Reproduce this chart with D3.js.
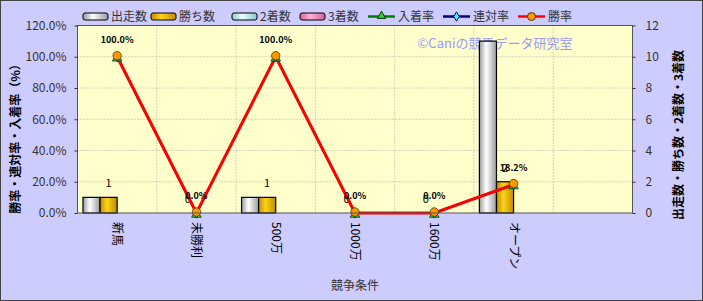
<!DOCTYPE html>
<html>
<head>
<meta charset="utf-8">
<script src="https://cdn.jsdelivr.net/npm/d3@7"></script>
<style>
  body { margin: 0; background: #fff; }
  text { font-family: "Noto Sans CJK JP", "DejaVu Sans", sans-serif; }
</style>
</head>
<body>
<div id="chart"></div>
<script>
// data
var categories = ["新馬", "未勝利", "500万", "1000万", "1600万", "オープン", ""];
var starts  = [1, 0, 1, 0, 0, 11];
var wins    = [1, 0, 1, 0, 0, 2];
var seconds = [0, 0, 0, 0, 0, 0];
var thirds  = [0, 0, 0, 0, 0, 0];
var showRate  = [100, 0, 100, 0, 0, 18.2];   // 入着率
var placeRate = [100, 0, 100, 0, 0, 18.2];   // 連対率
var winRate   = [100, 0, 100, 0, 0, 18.2];   // 勝率
var pctTicks = [0, 20, 40, 60, 80, 100, 120];
var cntTicks = [0, 2, 4, 6, 8, 10, 12];

var W = 703, H = 301;
var plot = {left: 77.5, right: 632.5, top: 25.5, bottom: 213};

var svg = d3.select("#chart").append("svg")
  .attr("width", W).attr("height", H);

var defs = svg.append("defs");
function grad(id, edge, mid) {
  var g = defs.append("linearGradient").attr("id", id)
    .attr("x1", "0%").attr("x2", "100%").attr("y1", "0%").attr("y2", "0%");
  g.append("stop").attr("offset", "0%").attr("stop-color", edge);
  g.append("stop").attr("offset", "40%").attr("stop-color", mid);
  g.append("stop").attr("offset", "100%").attr("stop-color", edge);
}
grad("gStart", "#9a9a9a", "#ffffff");
grad("gWin", "#c08c00", "#ffd21a");
grad("gSecond", "#88cccc", "#eaffff");
grad("gThird", "#cc6699", "#ffb3d9");

// background + border
svg.append("rect").attr("x", 0.5).attr("y", 0.5).attr("width", W - 1).attr("height", H - 1)
  .attr("fill", "#ccccff").attr("stroke", "#444").attr("stroke-width", 1);

svg.append("rect").attr("x", plot.left).attr("y", plot.top)
  .attr("width", plot.right - plot.left).attr("height", plot.bottom - plot.top)
  .attr("fill", "#ffffcc");

var x = d3.scaleBand().domain(categories).range([plot.left, plot.right]);
var yP = d3.scaleLinear().domain([0, 120]).range([plot.bottom, plot.top]);
var yC = d3.scaleLinear().domain([0, 12]).range([plot.bottom, plot.top]);

// gridlines
svg.append("g").selectAll("line").data(pctTicks.slice(1)).join("line")
  .attr("x1", plot.left).attr("x2", plot.right)
  .attr("y1", function(d) { return yP(d); }).attr("y2", function(d) { return yP(d); })
  .attr("stroke", "#a8a8a8").attr("stroke-dasharray", "1,2");
svg.append("g").selectAll("line").data(categories.slice(1)).join("line")
  .attr("x1", function(d) { return x(d); }).attr("x2", function(d) { return x(d); })
  .attr("y1", plot.top).attr("y2", plot.bottom)
  .attr("stroke", "#a8a8a8").attr("stroke-dasharray", "1,2");

// watermark (under the bars)
svg.append("text").attr("x", 495).attr("y", 48).attr("text-anchor", "middle")
  .attr("font-size", 13).attr("fill", "#9999ff")
  .text("©Caniの競馬データ研究室");

// bars
var series = [
  {name: "出走数", vals: starts, fill: "url(#gStart)"},
  {name: "勝ち数", vals: wins, fill: "url(#gWin)"},
  {name: "2着数", vals: seconds, fill: "url(#gSecond)"},
  {name: "3着数", vals: thirds, fill: "url(#gThird)"}
];
var inner = d3.scaleBand().domain(d3.range(series.length))
  .range([0, x.bandwidth()]).paddingOuter(0.32);

series.forEach(function(s, i) {
  svg.append("g").selectAll("rect").data(s.vals).join("rect")
    .attr("x", function(d, j) { return x(categories[j]) + inner(i); })
    .attr("width", inner.bandwidth())
    .attr("y", function(d) { return yC(d); })
    .attr("height", function(d) { return plot.bottom - yC(d); })
    .attr("fill", s.fill)
    .attr("stroke", "#000")
    .attr("stroke-width", function(d) { return d > 0 ? 1.2 : 0; });
});

// labels for 勝ち数
svg.append("g").selectAll("text").data(wins).join("text")
  .attr("x", function(d, j) { return x(categories[j]) + inner(1) + inner.bandwidth() / 2; })
  .attr("y", function(d) { return yC(d) - 10; })
  .attr("text-anchor", "middle")
  .attr("font-size", 11).attr("fill", "#000")
  .text(function(d) { return d; });

// lines
var cx = function(d, j) { return x(categories[j]) + x.bandwidth() / 2; };
var lineGen = function(vals) {
  return d3.line().x(function(d, j) { return cx(d, j); }).y(function(d) { return yP(d); })(vals);
};
svg.append("path").attr("d", lineGen(showRate)).attr("fill", "none")
  .attr("stroke", "#008000").attr("stroke-width", 2);
svg.append("path").attr("d", lineGen(placeRate)).attr("fill", "none")
  .attr("stroke", "#000080").attr("stroke-width", 2);
svg.append("path").attr("d", lineGen(winRate)).attr("fill", "none")
  .attr("stroke", "#ff0000").attr("stroke-width", 3);

// markers
var tri = d3.symbol().type(d3.symbolTriangle).size(40);
var dia = d3.symbol().type(d3.symbolDiamond).size(30);
svg.append("g").selectAll("path").data(showRate).join("path")
  .attr("d", tri)
  .attr("transform", function(d, j) { return "translate(" + cx(d, j) + "," + (yP(d) + 1.5) + ")"; })
  .attr("fill", "#33cc33").attr("stroke", "#004000").attr("stroke-width", 0.8);
svg.append("g").selectAll("path").data(placeRate).join("path")
  .attr("d", dia)
  .attr("transform", function(d, j) { return "translate(" + cx(d, j) + "," + yP(d) + ")"; })
  .attr("fill", "#33ffff").attr("stroke", "#000080").attr("stroke-width", 0.8);
svg.append("g").selectAll("circle").data(winRate).join("circle")
  .attr("cx", function(d, j) { return cx(d, j); })
  .attr("cy", function(d) { return yP(d) - 1; })
  .attr("r", 4.2)
  .attr("fill", "#ff9900").attr("stroke", "#553300").attr("stroke-width", 0.8);

// percent labels
svg.append("g").selectAll("text").data(winRate).join("text")
  .attr("x", function(d, j) { return cx(d, j); })
  .attr("y", function(d) { return yP(d) - 14; })
  .attr("text-anchor", "middle")
  .attr("font-size", 9).attr("font-weight", "bold").attr("fill", "#000")
  .text(function(d) { return d.toFixed(1) + "%"; });

// plot frame
svg.append("rect").attr("x", plot.left).attr("y", plot.top)
  .attr("width", plot.right - plot.left).attr("height", plot.bottom - plot.top)
  .attr("fill", "none").attr("stroke", "#555").attr("stroke-width", 1);

// axes
var leftAxis = svg.append("g").attr("transform", "translate(" + plot.left + ",0)")
  .call(d3.axisLeft(yP).tickValues(pctTicks).tickSize(3).tickPadding(8)
    .tickFormat(function(d) { return d.toFixed(1) + "%"; }));
var rightAxis = svg.append("g").attr("transform", "translate(" + plot.right + ",0)")
  .call(d3.axisRight(yC).tickValues(cntTicks).tickSize(3).tickPadding(10));
[leftAxis, rightAxis].forEach(function(a) {
  a.select(".domain").remove();
  a.selectAll("line").attr("stroke", "#333");
  a.selectAll("text").attr("font-size", 12).attr("fill", "#333")
    .attr("font-family", "'Liberation Sans', sans-serif");
});

// category labels, rotated
svg.append("g").selectAll("text").data(categories).join("text")
  .attr("transform", function(d) {
    return "translate(" + (x(d) + x.bandwidth() / 2 - 4) + "," + (plot.bottom + 9) + ") rotate(90)";
  })
  .attr("font-size", 12).attr("fill", "#000")
  .text(function(d) { return d; });

// axis titles
svg.append("text").attr("x", (plot.left + plot.right) / 2).attr("y", 290)
  .attr("text-anchor", "middle").attr("font-size", 12).attr("fill", "#333")
  .text("競争条件");
svg.append("text").attr("transform", "translate(20,136) rotate(-90)")
  .attr("text-anchor", "middle").attr("font-size", 12).attr("font-weight", "bold").attr("fill", "#000")
  .text("勝率・連対率・入着率（%）");
svg.append("text").attr("transform", "translate(683,135) rotate(-90)")
  .attr("text-anchor", "middle").attr("font-size", 12).attr("font-weight", "bold").attr("fill", "#000")
  .text("出走数・勝ち数・2着数・3着数");

// legend
var legBars = [
  {label: "出走数", fill: "url(#gStart)", x: 83},
  {label: "勝ち数", fill: "url(#gWin)", x: 151},
  {label: "2着数", fill: "url(#gSecond)", x: 232},
  {label: "3着数", fill: "url(#gThird)", x: 300}
];
legBars.forEach(function(l) {
  svg.append("rect").attr("x", l.x).attr("y", 13).attr("width", 25).attr("height", 7)
    .attr("rx", 2).attr("fill", l.fill).attr("stroke", "#000");
  svg.append("text").attr("x", l.x + 28).attr("y", 21).attr("font-size", 12).attr("fill", "#333")
    .text(l.label);
});
var legLines = [
  {label: "入着率", color: "#008000", x: 368, mark: "tri"},
  {label: "連対率", color: "#000080", x: 443, mark: "dia"},
  {label: "勝率", color: "#ff0000", x: 518, mark: "circle"}
];
legLines.forEach(function(l) {
  svg.append("line").attr("x1", l.x).attr("x2", l.x + 27).attr("y1", 16.5).attr("y2", 16.5)
    .attr("stroke", l.color).attr("stroke-width", 2.5);
  var mx = l.x + 13.5;
  if (l.mark === "tri") {
    svg.append("path").attr("d", d3.symbol().type(d3.symbolTriangle).size(30))
      .attr("transform", "translate(" + mx + ",16)").attr("fill", "#33cc33").attr("stroke", "#004000");
  } else if (l.mark === "dia") {
    svg.append("path").attr("d", d3.symbol().type(d3.symbolDiamond).size(25))
      .attr("transform", "translate(" + mx + ",16.5)").attr("fill", "#33ffff").attr("stroke", "#000080");
  } else {
    svg.append("circle").attr("cx", mx).attr("cy", 16.5).attr("r", 4)
      .attr("fill", "#ff9900").attr("stroke", "#553300");
  }
  svg.append("text").attr("x", l.x + 30).attr("y", 21).attr("font-size", 12).attr("fill", "#333")
    .text(l.label);
});
</script>
</body>
</html>
